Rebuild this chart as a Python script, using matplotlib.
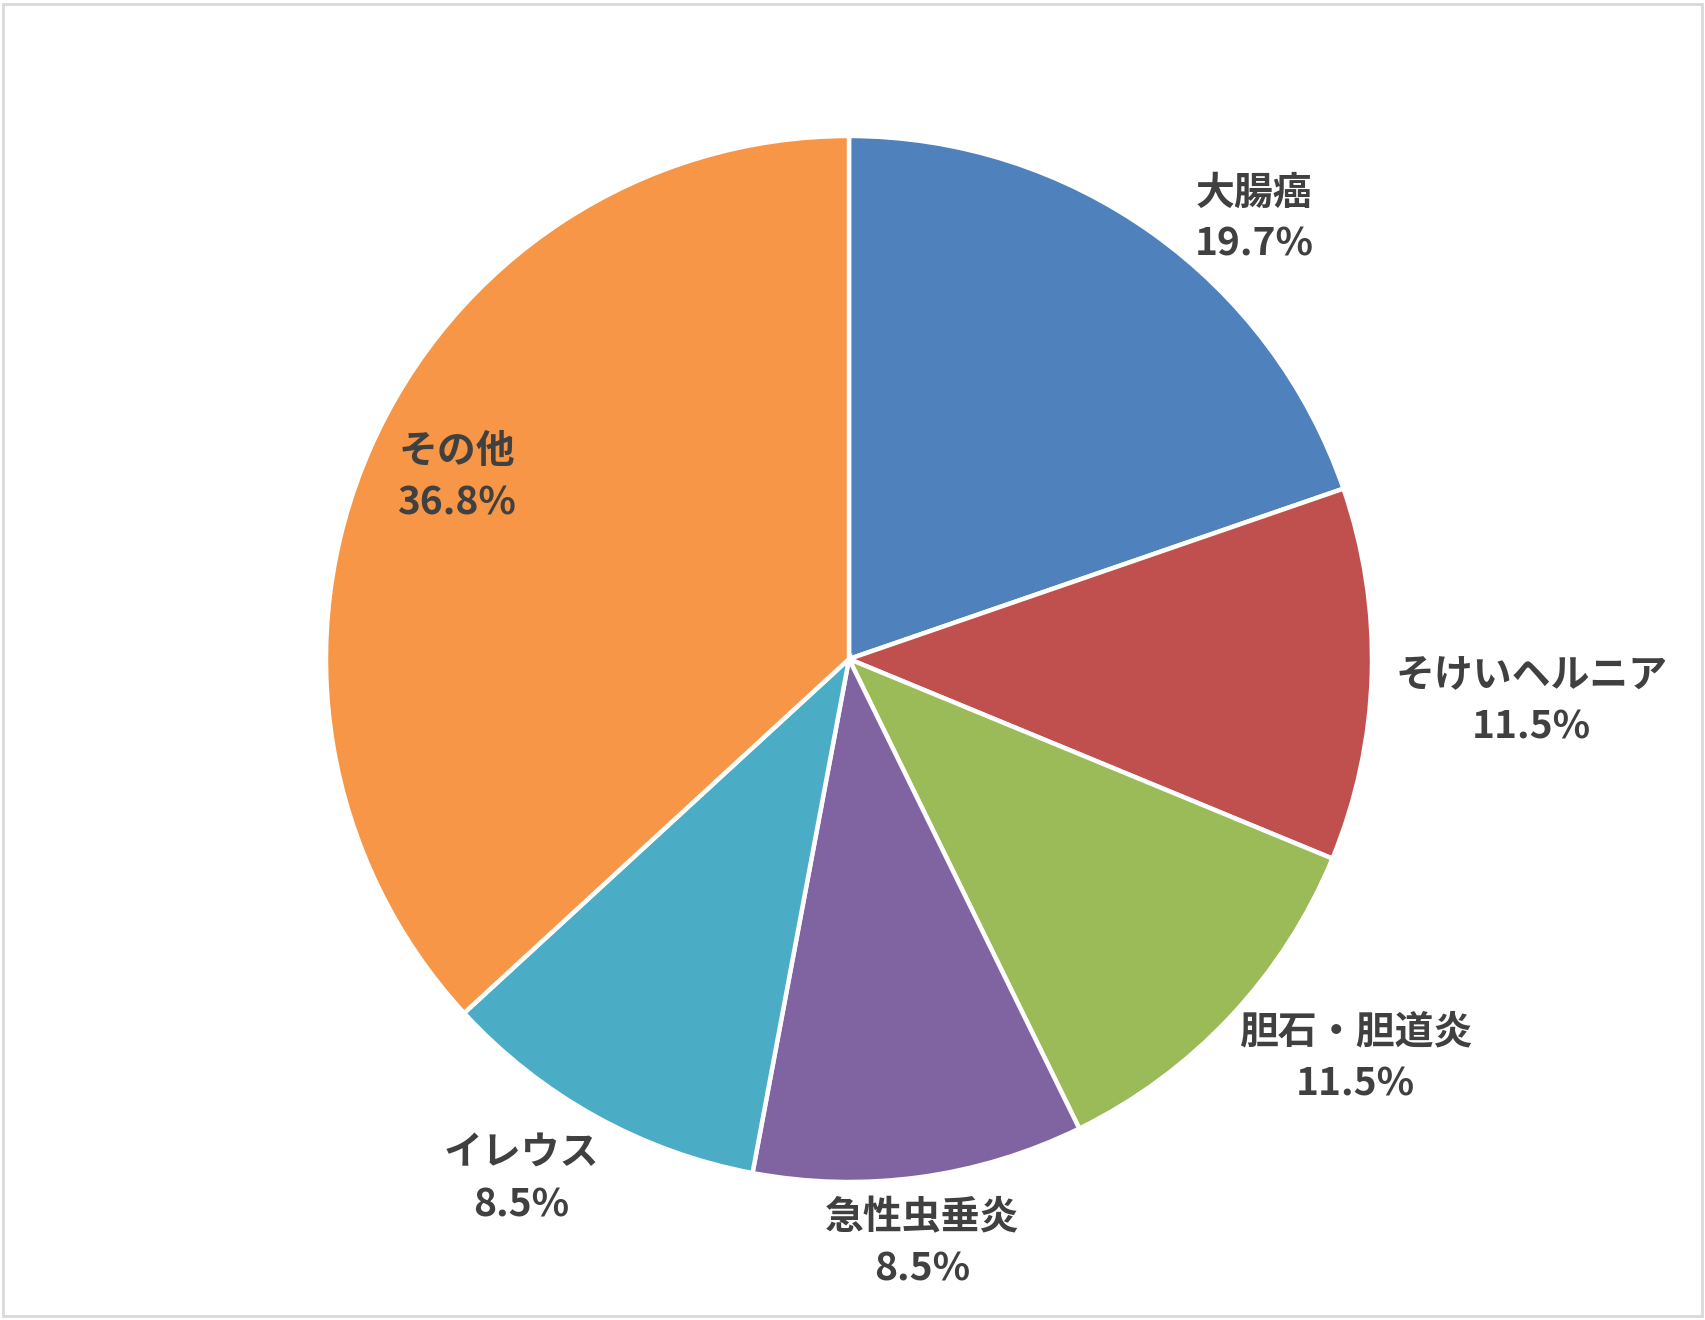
import matplotlib.pyplot as plt
from matplotlib.patches import Rectangle

plt.rcParams['font.family'] = ['Noto Sans CJK JP', 'DejaVu Sans']

# 疾患別割合
categories = ["大腸癌", "そけいヘルニア", "胆石・胆道炎", "急性虫垂炎", "イレウス", "その他"]
shares = [19.7, 11.5, 11.5, 10.2, 10.2, 36.8]          # 扇形の大きさ
pct_labels = ["19.7%", "11.5%", "11.5%", "8.5%", "8.5%", "36.8%"]  # 表示されているラベル
colors = ["#4F81BD", "#C0504D", "#9BBB59", "#8064A2", "#4BACC6", "#F79646"]

# ラベル位置（データ座標、半径=1）
label_xy = [(0.775, 0.842), (1.305, -0.081), (0.968, -0.763),
            (0.140, -1.117), (-0.627, -0.994), (-0.750, 0.348)]

PX = 523  # 半径のピクセル数

fig = plt.figure(figsize=(17.05, 13.2), dpi=100)
ax = fig.add_axes([0, 0, 1, 1])
ax.pie(shares, colors=colors, startangle=90, counterclock=False, radius=1.0,
       wedgeprops=dict(edgecolor="white", linewidth=3.2))

for name, pct, (x, y) in zip(categories, pct_labels, label_xy):
    ax.text(x, y, f"{name}\n{pct}", ha="center", va="center", fontsize=28,
            fontweight="bold", color="#404040", linespacing=1.4)

ax.set_xlim(-849 / PX, 856 / PX)
ax.set_ylim(-661 / PX, 659 / PX)
ax.set_aspect("equal")
ax.axis("off")

# 外枠
fig.patches.append(Rectangle((0.002, 0.003), 0.996, 0.994, transform=fig.transFigure,
                             fill=False, edgecolor="#D9D9D9", linewidth=2))

fig.savefig("out.png", dpi=100)
plt.close(fig)
